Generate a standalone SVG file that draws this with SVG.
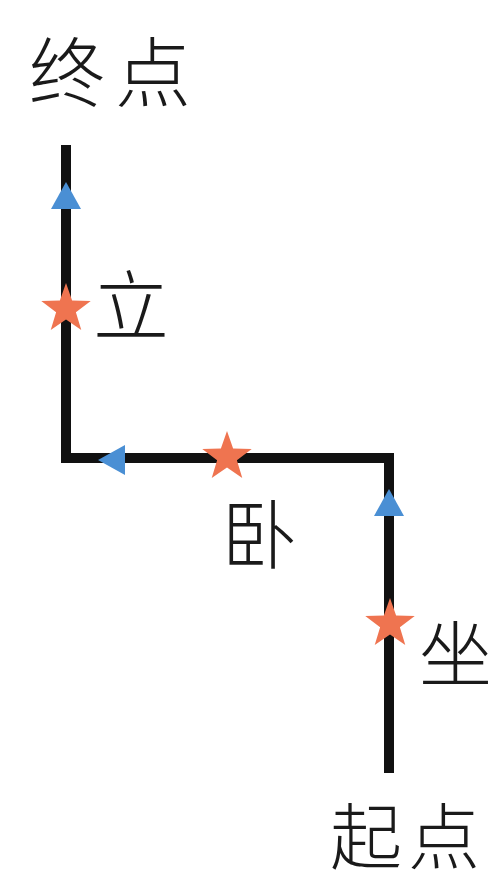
<svg xmlns="http://www.w3.org/2000/svg" width="493" height="885" viewBox="0 0 493 885">
<style>
.lbl{font-family:"Noto Sans CJK SC","Noto Sans CJK JP",sans-serif;font-size:76px;font-weight:300;fill:#1a1a1a}
.sm{font-size:73px}
.path{fill:none;stroke:#111;stroke-width:10;stroke-linejoin:miter;stroke-linecap:butt}
.star{fill:#ef7450}
.tri{fill:#4a8fd4}
</style>
<defs>
<polygon id="star" points="0,-26 6.11,-8.41 24.73,-8.03 9.89,3.21 15.28,21.03 0,10.4 -15.28,21.03 -9.89,3.21 -24.73,-8.03 -6.11,-8.41"/>
<polygon id="tri" points="0,-14 15,13 -15,13"/>
</defs>
<rect width="493" height="885" fill="#fff"/>
<g id="connectors">
<path class="path" d="M389 773 L389 458 L66 458 L66 145"/>
<use href="#tri" class="tri" transform="translate(389,503)"/>
<use href="#tri" class="tri" transform="translate(112,460) rotate(-90)"/>
<use href="#tri" class="tri" transform="translate(66,196)"/>
</g>
<g id="end"><text class="lbl" x="29" y="101" letter-spacing="10">终点</text></g>
<g id="start"><text class="lbl" x="330" y="863" style="font-size:72px">起<tspan dx="6">点</tspan></text></g>
<g id="sit"><use href="#star" class="star" transform="translate(390,624)"/><text class="lbl sm" x="419" y="681">坐</text></g>
<g id="lie"><use href="#star" class="star" transform="translate(227,457)"/><text class="lbl" x="221" y="563">卧</text></g>
<g id="stand"><use href="#star" class="star" transform="translate(66,309)"/><text class="lbl" x="93" y="334">立</text></g>
</svg>
